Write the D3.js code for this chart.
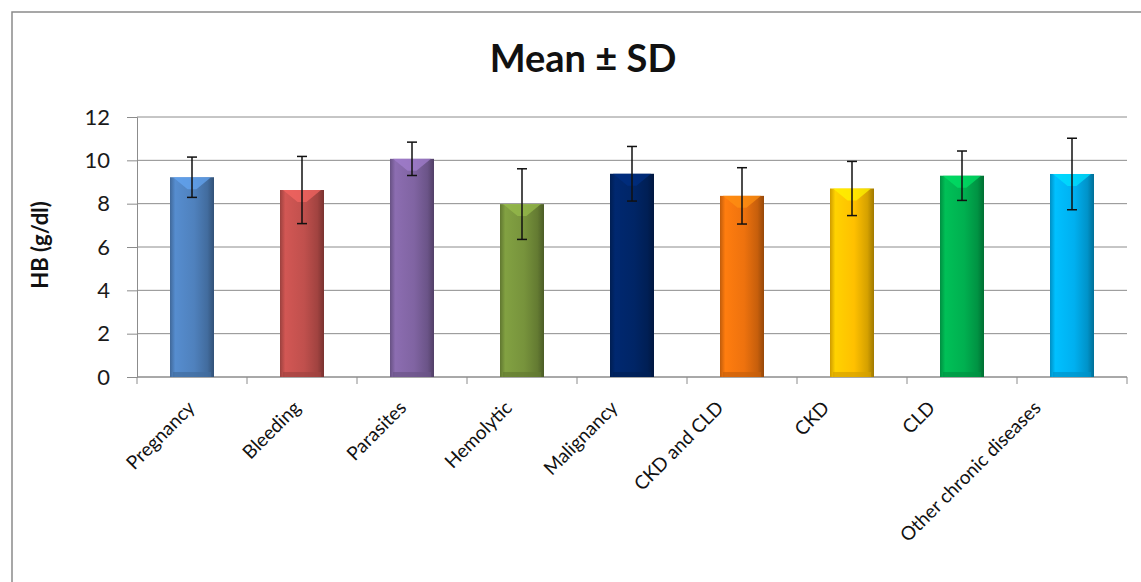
<!DOCTYPE html>
<html><head><meta charset="utf-8">
<script src="https://cdn.jsdelivr.net/npm/d3@7"></script>
<style>
html,body{margin:0;padding:0;background:#fff;}
svg{display:block;}
text{font-family:Lato,"Open Sans",sans-serif;}
</style></head>
<body>
<svg id="chart" width="1141" height="582"></svg>
<script>
const categories = ["Pregnancy","Bleeding","Parasites","Hemolytic","Malignancy","CKD and CLD","CKD","CLD","Other chronic diseases"];
const means = [9.22, 8.63, 10.07, 7.98, 9.38, 8.36, 8.70, 9.29, 9.37];
const sds = [0.93, 1.55, 0.77, 1.63, 1.26, 1.30, 1.25, 1.14, 1.65];
const colors = ["#4F81BD","#C0504D","#8064A2","#77933C","#002566","#EE720E","#FFC000","#00B050","#00B0F0"];
const yTicks = [0,2,4,6,8,10,12];
const titleText = "Mean \u00B1 SD";
const yTitle = "HB (g/dl)";

(function(){
const svg = d3.select("#chart");
const W = 1141, H = 582;
svg.append("rect").attr("x",0).attr("y",0).attr("width",W).attr("height",H).attr("fill","#fff");
// outer frame
svg.append("rect").attr("x",12).attr("y",12).attr("width",W).attr("height",H)
  .attr("fill","none").attr("stroke","#8a8a8a").attr("stroke-width",1.5);

const pLeft = 137, pRight = 1127, pTop = 117, pBottom = 377;
const x = d3.scaleBand().domain(categories).range([pLeft,pRight]).paddingInner(0.6).paddingOuter(0.3);
const xs = d3.scaleBand().domain(categories).range([pLeft,pRight]).padding(0);
const y = d3.scaleLinear().domain([0,12]).range([pBottom,pTop]);
const cxOf = d => x(d)+x.bandwidth()/2;
// label anchor scale (labels in the original drift slightly left of bar centres)
const xl = d3.scalePoint().domain(categories)
  .range([cxOf(categories[0])+4, cxOf(categories[categories.length-1])-30]);

// gridlines
svg.append("g").selectAll("line").data(yTicks).join("line")
  .attr("x1",pLeft).attr("x2",pRight).attr("y1",d=>y(d)).attr("y2",d=>y(d))
  .attr("stroke","#8c8c8c").attr("stroke-width",1);

// y axis
const yAxis = svg.append("g").attr("transform",`translate(${pLeft},0)`)
  .call(d3.axisLeft(y).tickValues(yTicks).tickSize(10).tickPadding(17).tickFormat(d3.format("d")));
yAxis.select(".domain").attr("stroke","#8c8c8c");
yAxis.selectAll(".tick line").attr("stroke","#8c8c8c");
yAxis.selectAll("text").attr("font-size",22).attr("fill","#1a1a1a").attr("font-family","Lato, sans-serif");

// x axis line & ticks at category boundaries
const xAxisG = svg.append("g");
xAxisG.append("line").attr("x1",pLeft).attr("x2",pRight).attr("y1",pBottom).attr("y2",pBottom).attr("stroke","#8c8c8c");
const bounds = categories.map(c=>xs(c)).concat([pRight]);
xAxisG.selectAll("line.t").data(bounds).join("line").attr("class","t")
  .attr("x1",d=>d).attr("x2",d=>d).attr("y1",pBottom).attr("y2",pBottom+7).attr("stroke","#8c8c8c");

// gradients
const defs = svg.append("defs");
colors.forEach((c,i)=>{
  const g = defs.append("linearGradient").attr("id","g"+i).attr("x1","0").attr("x2","1").attr("y1","0").attr("y2","0");
  const base = d3.color(c);
  g.append("stop").attr("offset","0%").attr("stop-color",d3.color(c).darker(0.6));
  g.append("stop").attr("offset","12%").attr("stop-color",d3.color(c).brighter(0.25));
  g.append("stop").attr("offset","55%").attr("stop-color",base);
  g.append("stop").attr("offset","85%").attr("stop-color",d3.color(c).darker(0.5));
  g.append("stop").attr("offset","100%").attr("stop-color",d3.color(c).darker(1.3));
});

const bars = svg.append("g").selectAll("g").data(categories).join("g");
bars.append("rect")
  .attr("x",d=>x(d)).attr("width",x.bandwidth())
  .attr("y",(d,i)=>y(means[i])).attr("height",(d,i)=>y(0)-y(means[i]))
  .attr("fill",(d,i)=>`url(#g${i})`);
// top bevel highlight (chevron)
bars.append("path")
  .attr("d",(d,i)=>{const x0=x(d),w=x.bandwidth(),t=y(means[i]);
    return `M${x0+3},${t}L${x0+w-3},${t}L${x0+w*0.6},${t+12}L${x0+w*0.4},${t+12}Z`;})
  .attr("fill",(d,i)=>d3.color(colors[i]).brighter(0.7)).attr("opacity",0.7);
// bottom bevel shade
bars.append("rect")
  .attr("x",d=>x(d)+3).attr("width",x.bandwidth()-6)
  .attr("y",y(0)-5).attr("height",5)
  .attr("fill",(d,i)=>d3.color(colors[i]).darker(0.5)).attr("opacity",0.7);

// error bars
const eb = svg.append("g").attr("stroke","#111").attr("stroke-width",1.5);
categories.forEach((c,i)=>{
  const cx = cxOf(c);
  const y1 = y(means[i]+sds[i]), y2 = y(means[i]-sds[i]);
  eb.append("line").attr("x1",cx).attr("x2",cx).attr("y1",y1).attr("y2",y2);
  eb.append("line").attr("x1",cx-5).attr("x2",cx+5).attr("y1",y1).attr("y2",y1);
  eb.append("line").attr("x1",cx-5).attr("x2",cx+5).attr("y1",y2).attr("y2",y2);
});

// category labels
svg.append("g").selectAll("text").data(categories).join("text")
  .attr("transform",d=>`translate(${xl(d)},${pBottom+32}) rotate(-45)`)
  .attr("text-anchor","end").attr("font-size",19).attr("fill","#111")
  .text(d=>d);

// title
svg.append("text").attr("x",583).attr("y",72).attr("text-anchor","middle")
  .attr("font-size",38).attr("font-weight","bold").attr("fill","#111").text(titleText);

// y title
svg.append("text").attr("transform","translate(48,245) rotate(-90)").attr("text-anchor","middle")
  .attr("font-size",22).attr("font-weight","bold").attr("fill","#111").text(yTitle);
})();
</script>
</body></html>
